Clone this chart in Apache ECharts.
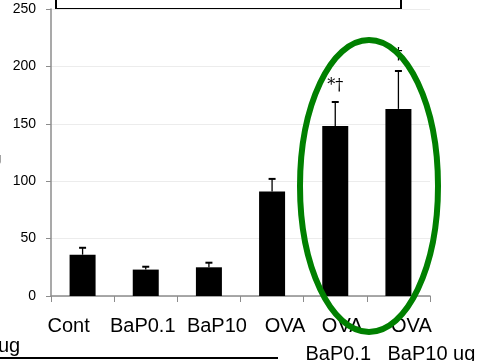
<!DOCTYPE html>
<html>
<head>
<meta charset="utf-8">
<script src="https://cdn.jsdelivr.net/npm/echarts@6/dist/echarts.min.js"></script>
<style>
html, body { margin: 0; padding: 0; background: #fff; }
#chart { width: 481px; height: 361px; }
</style>
</head>
<body>
<div id="chart"></div>
<script>
var categories = ['Cont', 'BaP0.1', 'BaP10', 'OVA', 'OVA\nBaP0.1', 'OVA\nBaP10 ug'];
var means = [36, 23, 25, 91, 148, 163];
var errTops = [42, 25.5, 29, 102, 169, 196];
var marks = [null, null, null, null, '*†', '†'];
var yTicks = [0, 50, 100, 150, 200, 250];

var dom = document.getElementById('chart');
var myChart = echarts.init(dom);

var errData = means.map(function (m, i) { return [i, m, errTops[i]]; });
var markData = [];
marks.forEach(function (t, i) {
    if (t) markData.push([i, errTops[i], t]);
});

// the labels in the source were typed by hand, so they sit a bit off the tick centres
var labelShift = [[-14], [-3], [8], [13], [7, 3], [13, 33]];
var rich = {};
labelShift.forEach(function (row, i) {
    row.forEach(function (dx, j) {
        rich['s' + i + '_' + j] = {
            fontFamily: 'Liberation Sans',
            fontSize: 20,
            lineHeight: 28,
            color: '#000',
            padding: dx >= 0 ? [0, 0, 0, 2 * dx] : [0, -2 * dx, 0, 0]
        };
    });
});

var option = {
    animation: false,
    grid: { left: 51, right: 51, top: 9, bottom: 65, containLabel: false, outerBoundsMode: 'none' },
    xAxis: {
        type: 'category',
        data: categories,
        axisLine: { lineStyle: { color: '#8c8c8c', width: 1.5 } },
        axisTick: { show: true, length: 6, lineStyle: { color: '#8c8c8c' } },
        axisLabel: {
            color: '#000',
            fontFamily: 'Liberation Sans',
            fontSize: 20,
            lineHeight: 28,
            margin: 16,
            interval: 0,
            hideOverlap: false,
            verticalAlign: 'top',
            rich: rich,
            formatter: function (v, i) {
                return v.split('\n').map(function (line, j) {
                    return '{s' + i + '_' + j + '|' + line + '}';
                }).join('\n');
            }
        }
    },
    yAxis: {
        type: 'value',
        min: yTicks[0],
        max: yTicks[yTicks.length - 1],
        interval: yTicks[1] - yTicks[0],
        axisLine: { show: true, lineStyle: { color: '#8c8c8c', width: 1.5 } },
        axisTick: { show: true, length: 5, lineStyle: { color: '#8c8c8c' } },
        splitLine: { lineStyle: { color: '#ececec' } },
        axisLabel: {
            color: '#000',
            fontFamily: 'Liberation Sans',
            fontSize: 14,
            margin: 15
        }
    },
    series: [
        {
            type: 'bar',
            data: means,
            barWidth: 26,
            itemStyle: { color: '#000' },
            z: 2
        },
        {
            type: 'custom',
            data: errData,
            z: 3,
            renderItem: function (params, api) {
                var x = api.value(0);
                var b = api.coord([x, api.value(1)]);
                var t = api.coord([x, api.value(2)]);
                return {
                    type: 'group',
                    children: [
                        { type: 'line', shape: { x1: b[0], y1: b[1], x2: t[0], y2: t[1] }, style: { stroke: '#000', lineWidth: 1.3 } },
                        { type: 'line', shape: { x1: t[0] - 3.5, y1: t[1], x2: t[0] + 3.5, y2: t[1] }, style: { stroke: '#000', lineWidth: 2 } }
                    ]
                };
            }
        },
        {
            type: 'custom',
            data: markData,
            z: 4,
            renderItem: function (params, api) {
                var p = api.coord([api.value(0), api.value(1)]);
                return {
                    type: 'text',
                    style: {
                        text: markData[params.dataIndex][2],
                        x: p[0],
                        y: p[1] - 16,
                        fill: '#000',
                        font: '16px "DejaVu Serif"',
                        textAlign: 'center',
                        textVerticalAlign: 'middle'
                    }
                };
            }
        }
    ],
    graphic: [
        {
            type: 'rect',
            shape: { x: 56, y: -10, width: 345, height: 19 },
            style: { fill: 'none', stroke: '#000', lineWidth: 2 }
        },
        {
            type: 'ellipse',
            shape: { cx: 369, cy: 186, rx: 69, ry: 146 },
            style: { fill: 'none', stroke: '#008000', lineWidth: 6 },
            z: 10
        },
        {
            type: 'line',
            shape: { x1: 0, y1: 358, x2: 278, y2: 358 },
            style: { stroke: '#000', lineWidth: 2 }
        },
        {
            type: 'text',
            style: { text: 'ug', x: -2, y: 336, fill: '#000', font: '20px "Liberation Sans"' }
        },
        {
            type: 'text',
            style: { text: 'g', x: -6, y: 152, fill: '#000', font: '13px "Liberation Sans"' }
        }
    ]
};

if (option && typeof option === 'object') {
    myChart.setOption(option, true);
}
</script>
</body>
</html>
